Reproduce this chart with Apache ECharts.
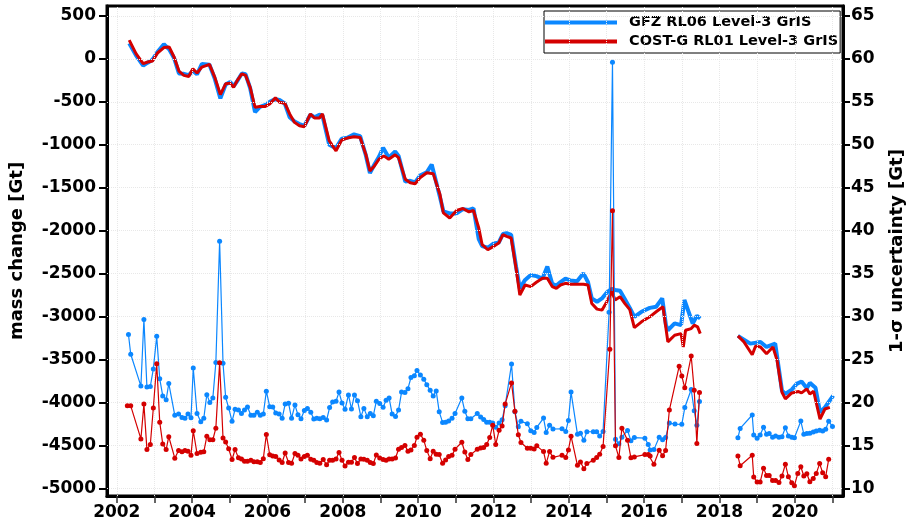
<!DOCTYPE html>
<html>
<head>
<meta charset="utf-8">
<script src="https://cdn.jsdelivr.net/npm/echarts@6/dist/echarts.min.js"></script>
<style>html,body{margin:0;padding:0;background:#fff}#c{width:914px;height:524px}</style>
</head>
<body>
<div id="c"></div>
<script>
// ---- tick labels ----
var xLabelYears = [2002,2004,2006,2008,2010,2012,2014,2016,2018,2020];
var xTickYears = [2002,2003,2004,2005,2006,2007,2008,2009,2010,2011,2012,2013,2014,2015,2016,2017,2018,2019,2020,2021];
var massTicks = [-5000,-4500,-4000,-3500,-3000,-2500,-2000,-1500,-1000,-500,0,500];
var sigmaTicks = [10,15,20,25,30,35,40,45,50,55,60,65];

// ---- GFZ RL06 mass change [Gt] ----
var gfzMassT = [2002.33,2002.51,2002.70,2002.82,2002.95,2003.08,2003.25,2003.39,2003.52,2003.65,2003.78,2003.91,2004.02,2004.13,2004.26,2004.46,2004.60,2004.75,2004.89,2005.01,2005.10,2005.21,2005.32,2005.42,2005.54,2005.67,2005.80,2005.93,2006.06,2006.21,2006.32,2006.46,2006.59,2006.72,2006.85,2006.98,2007.14,2007.25,2007.38,2007.46,2007.64,2007.82,2007.97,2008.12,2008.30,2008.46,2008.61,2008.72,2008.84,2008.96,2009.07,2009.22,2009.39,2009.48,2009.66,2009.79,2009.92,2010.05,2010.23,2010.36,2010.58,2010.67,2010.84,2011.02,2011.19,2011.35,2011.47,2011.61,2011.70,2011.85,2012.00,2012.14,2012.25,2012.35,2012.47,2012.60,2012.70,2012.84,2012.99,2013.14,2013.30,2013.43,2013.56,2013.67,2013.78,2013.91,2014.04,2014.22,2014.39,2014.51,2014.61,2014.75,2014.88,2015.01,2015.14,2015.23,2015.36,2015.49,2015.62,2015.74,2015.93,2016.15,2016.32,2016.48,2016.58,2016.63,2016.81,2016.98,2017.07,2017.29,2017.40,2017.49,2018.0,2018.49,2018.82,2019.09,2019.25,2019.48,2019.66,2019.75,2019.92,2020.05,2020.18,2020.32,2020.40,2020.55,2020.67,2020.80,2021.02];
var gfzMass = [180,40,-80,-45,-10,80,170,110,10,-170,-175,-190,-140,-180,-60,-70,-230,-460,-300,-270,-320,-250,-170,-180,-340,-620,-560,-540,-500,-470,-480,-520,-680,-730,-760,-780,-650,-680,-650,-660,-1000,-1040,-930,-920,-880,-900,-1120,-1330,-1230,-1140,-1035,-1150,-1080,-1130,-1430,-1420,-1440,-1360,-1320,-1230,-1610,-1775,-1800,-1800,-1750,-1760,-1740,-2100,-2180,-2200,-2150,-2140,-2040,-2030,-2050,-2420,-2672,-2574,-2516,-2530,-2560,-2418,-2620,-2640,-2600,-2560,-2580,-2590,-2497,-2600,-2789,-2828,-2790,-2720,-2680,-2691,-2700,-2800,-2900,-3004,-2945,-2900,-2887,-2789,-3101,-3160,-3080,-3101,-2808,-3082,-2992,-3023,'-',-3226,-3316,-3296,-3355,-3316,-3863,-3902,-3852,-3785,-3757,-3835,-3773,-3830,-4116,-4058,-3921];

// ---- COST-G RL01 mass change [Gt] ----
var costMassT = [2002.33,2002.51,2002.70,2002.82,2002.95,2003.08,2003.25,2003.39,2003.52,2003.65,2003.78,2003.91,2004.02,2004.13,2004.26,2004.46,2004.60,2004.75,2004.89,2005.01,2005.10,2005.21,2005.32,2005.42,2005.54,2005.67,2005.80,2005.93,2006.06,2006.21,2006.32,2006.46,2006.59,2006.72,2006.85,2006.98,2007.14,2007.25,2007.38,2007.46,2007.64,2007.82,2007.97,2008.12,2008.30,2008.46,2008.61,2008.72,2008.84,2008.96,2009.09,2009.22,2009.39,2009.48,2009.66,2009.79,2009.92,2010.05,2010.23,2010.40,2010.58,2010.67,2010.84,2011.02,2011.19,2011.35,2011.47,2011.61,2011.70,2011.85,2012.00,2012.14,2012.25,2012.35,2012.47,2012.60,2012.70,2012.84,2012.99,2013.14,2013.30,2013.43,2013.56,2013.67,2013.78,2013.91,2014.04,2014.22,2014.39,2014.51,2014.61,2014.75,2014.88,2015.01,2015.14,2015.23,2015.36,2015.49,2015.62,2015.74,2015.93,2016.15,2016.32,2016.50,2016.63,2016.81,2016.98,2017.04,2017.10,2017.25,2017.33,2017.42,2017.49,2018.0,2018.49,2018.65,2018.87,2018.96,2019.09,2019.25,2019.42,2019.53,2019.66,2019.75,2019.92,2020.10,2020.18,2020.32,2020.40,2020.50,2020.67,2020.80,2020.93];
var costMass = [217,61,-56,-37,-26,68,131,138,21,-143,-193,-205,-115,-166,-96,-64,-213,-416,-291,-283,-330,-244,-174,-193,-330,-564,-556,-556,-525,-455,-506,-517,-642,-740,-779,-790,-642,-689,-689,-642,-954,-1071,-946,-923,-908,-916,-1110,-1306,-1247,-1169,-1130,-1169,-1118,-1150,-1403,-1443,-1454,-1384,-1326,-1337,-1579,-1794,-1853,-1766,-1743,-1782,-1766,-1970,-2164,-2223,-2184,-2145,-2047,-2067,-2086,-2438,-2750,-2633,-2652,-2602,-2555,-2555,-2652,-2672,-2633,-2614,-2625,-2625,-2625,-2633,-2848,-2914,-2926,-2828,-2711,-2808,-2770,-2850,-2920,-3130,-3062,-3004,-2945,-2887,-3296,-3218,-3199,-3355,-3160,-3141,-3101,-3121,-3199,'-',-3226,-3296,-3445,-3343,-3355,-3433,-3355,-3511,-3882,-3960,-3890,-3874,-3890,-3843,-3902,-3870,-4195,-4077,-4058];

// ---- GFZ 1-sigma uncertainty [Gt] ----
var gfzSigT = [2002.31,2002.37,2002.64,2002.72,2002.80,2002.89,2002.97,2003.06,2003.14,2003.22,2003.31,2003.38,2003.54,2003.64,2003.73,2003.81,2003.89,2003.97,2004.03,2004.13,2004.23,2004.31,2004.39,2004.47,2004.55,2004.63,2004.73,2004.82,2004.89,2004.97,2005.06,2005.14,2005.23,2005.31,2005.39,2005.47,2005.56,2005.64,2005.73,2005.81,2005.89,2005.97,2006.06,2006.14,2006.22,2006.31,2006.39,2006.47,2006.56,2006.64,2006.73,2006.81,2006.89,2006.98,2007.06,2007.15,2007.23,2007.31,2007.39,2007.48,2007.57,2007.65,2007.73,2007.82,2007.90,2007.98,2008.06,2008.15,2008.23,2008.31,2008.39,2008.48,2008.56,2008.65,2008.73,2008.81,2008.89,2008.98,2009.07,2009.15,2009.23,2009.31,2009.40,2009.48,2009.56,2009.65,2009.73,2009.81,2009.90,2009.97,2010.06,2010.15,2010.23,2010.32,2010.40,2010.48,2010.56,2010.65,2010.73,2010.81,2010.90,2010.98,2011.16,2011.24,2011.32,2011.40,2011.57,2011.66,2011.74,2011.82,2011.90,2011.98,2012.06,2012.15,2012.23,2012.31,2012.48,2012.57,2012.66,2012.73,2012.90,2012.99,2013.08,2013.15,2013.33,2013.40,2013.49,2013.58,2013.82,2013.92,2013.99,2014.06,2014.23,2014.31,2014.40,2014.48,2014.65,2014.74,2014.82,2014.91,2015.07,2015.16,2015.24,2015.33,2015.41,2015.56,2015.65,2015.74,2016.02,2016.11,2016.16,2016.26,2016.40,2016.49,2016.57,2016.67,2016.82,2017.00,2017.08,2017.25,2017.33,2017.40,2017.47,2018.0,2018.49,2018.55,2018.87,2018.91,2019.00,2019.08,2019.17,2019.25,2019.32,2019.41,2019.49,2019.58,2019.66,2019.75,2019.83,2019.92,2019.99,2020.16,2020.24,2020.32,2020.40,2020.49,2020.57,2020.66,2020.74,2020.82,2020.90,2021.00];
var gfzSig = [27.9,25.6,21.9,29.65,21.8,21.85,23.9,27.7,22.75,20.75,20.3,22.2,18.5,18.65,18.25,18.15,18.65,18.2,24.0,18.7,17.75,18.15,20.9,20.0,20.5,24.65,38.75,24.55,20.6,19.35,17.8,19.2,19.1,18.7,19.1,19.45,18.5,18.5,18.85,18.5,18.65,21.3,19.5,19.45,18.75,18.65,18.15,19.8,19.9,18.15,19.7,18.55,18.1,19.05,19.3,18.85,18.06,18.14,18.1,18.25,17.94,19.4,20.05,20.13,21.2,19.93,19.2,20.87,19.23,20.87,20.2,18.34,19.3,18.34,18.7,18.45,20.13,19.86,19.43,20.25,20.52,18.64,18.37,19.1,21.2,21.15,21.6,22.9,23.1,23.7,23.2,22.7,22.05,21.4,20.75,21.33,18.9,17.67,17.7,17.82,18.14,18.7,20.5,18.96,18.1,18.1,18.7,18.3,18.0,17.7,17.7,17.6,17.1,17.6,17.98,19.6,24.46,18.92,17.17,17.79,17.52,16.7,16.5,17.08,18.17,16.5,17.35,16.9,16.93,16.62,17.9,21.2,16.3,16.42,15.6,16.58,16.58,16.58,16.1,16.62,30.5,59.6,15.7,15.17,15.95,16.73,15.52,15.9,15.83,15.1,14.47,14.5,15.95,15.64,15.9,17.59,17.47,17.44,19.4,21.5,19.04,17.35,20.1,'-',15.88,16.97,18.53,16.2,15.83,16.2,17.1,16.3,16.38,15.95,16.1,15.95,16.0,17.05,16.1,15.95,15.88,17.82,16.3,16.38,16.4,16.56,16.68,16.75,16.68,16.87,17.8,17.2];

// ---- COST-G 1-sigma uncertainty [Gt] ----
var costSigT = [2002.28,2002.37,2002.64,2002.72,2002.80,2002.89,2002.97,2003.06,2003.14,2003.22,2003.31,2003.38,2003.54,2003.64,2003.73,2003.81,2003.89,2003.97,2004.03,2004.13,2004.23,2004.31,2004.39,2004.47,2004.55,2004.63,2004.73,2004.82,2004.89,2004.97,2005.06,2005.14,2005.23,2005.31,2005.39,2005.47,2005.56,2005.64,2005.73,2005.81,2005.89,2005.97,2006.06,2006.14,2006.22,2006.31,2006.39,2006.47,2006.56,2006.64,2006.73,2006.81,2006.89,2006.98,2007.06,2007.15,2007.23,2007.31,2007.39,2007.48,2007.57,2007.65,2007.73,2007.82,2007.90,2007.98,2008.06,2008.15,2008.23,2008.31,2008.39,2008.48,2008.56,2008.65,2008.73,2008.81,2008.89,2008.98,2009.07,2009.15,2009.23,2009.31,2009.40,2009.48,2009.56,2009.65,2009.73,2009.81,2009.90,2009.97,2010.06,2010.15,2010.23,2010.32,2010.40,2010.48,2010.56,2010.65,2010.73,2010.81,2010.90,2010.98,2011.16,2011.24,2011.32,2011.40,2011.57,2011.66,2011.74,2011.82,2011.90,2011.98,2012.06,2012.15,2012.23,2012.31,2012.48,2012.57,2012.66,2012.73,2012.90,2012.99,2013.08,2013.15,2013.33,2013.40,2013.49,2013.58,2013.82,2013.92,2013.99,2014.06,2014.23,2014.31,2014.40,2014.48,2014.65,2014.74,2014.82,2014.91,2015.09,2015.16,2015.24,2015.33,2015.41,2015.56,2015.65,2015.74,2016.02,2016.11,2016.16,2016.26,2016.40,2016.49,2016.57,2016.67,2016.93,2017.00,2017.08,2017.25,2017.33,2017.40,2017.47,2018.0,2018.49,2018.55,2018.87,2018.91,2019.00,2019.08,2019.17,2019.25,2019.32,2019.41,2019.49,2019.58,2019.66,2019.75,2019.83,2019.92,2019.99,2020.08,2020.16,2020.24,2020.32,2020.40,2020.49,2020.57,2020.66,2020.74,2020.82,2020.90];
var costSig = [19.6,19.6,15.75,19.8,14.5,15.1,19.35,24.5,17.7,15.15,14.5,16.0,13.5,14.4,14.25,14.4,14.3,13.85,16.7,14.05,14.2,14.25,16.05,15.65,15.65,17.0,24.6,15.85,15.4,14.6,13.35,14.5,13.55,13.4,13.15,13.15,13.25,13.1,13.1,13.0,13.45,16.25,13.9,13.75,13.7,13.3,13.0,14.1,13.0,12.9,14.05,13.85,13.4,13.7,13.84,13.37,13.26,12.99,12.9,13.34,12.75,13.26,13.26,13.42,14.16,13.26,12.6,13.03,13.03,13.57,12.87,13.42,13.37,13.26,12.99,12.87,13.88,13.53,13.34,13.26,13.42,13.42,13.53,14.55,14.74,14.98,14.3,14.47,14.98,15.95,16.3,15.6,14.4,13.45,14.3,13.96,13.92,12.9,13.3,13.69,13.84,14.55,15.36,14.22,13.34,13.92,14.55,14.7,14.74,15.1,15.9,17.35,15.1,16.75,17.25,19.8,22.27,18.96,16.23,15.33,14.66,14.66,14.58,14.94,14.27,12.9,14.27,13.6,13.84,13.57,14.47,16.06,12.67,13.06,12.28,12.87,13.26,13.57,13.96,14.86,26.2,42.3,14.94,13.57,17.0,15.6,13.54,13.65,13.92,13.92,13.77,12.79,14.43,13.8,14.4,19.1,24.2,23.06,21.7,25.4,21.4,15.2,21.15,'-',13.77,12.63,13.84,11.3,10.72,10.72,12.32,11.5,11.5,10.9,10.9,10.68,11.43,12.8,11.35,10.65,10.3,11.73,12.5,11.43,11.7,10.76,11.15,11.73,12.87,11.8,11.35,13.37];

function zip(t, v) { return t.map(function (x, i) { return [x, v[i]]; }); }

var BLUE = '#0b87ff', RED = '#d40000';
var FONT = 'DejaVu Sans';

var chart = echarts.init(document.getElementById('c'), null, {renderer: 'canvas'});
chart.setOption({
  animation: false,
  backgroundColor: '#fff',
  grid: {left: 105, top: 6, width: 742, height: 490, show: true, borderColor: '#000', borderWidth: 3, backgroundColor: 'transparent'},
  legend: {
    orient: 'vertical', left: 544, top: 11,
    data: ['GFZ RL06 Level-3 GrIS', 'COST-G RL01 Level-3 GrIS'],
    icon: 'rect', itemWidth: 72, itemHeight: 4, itemGap: 4,
    borderColor: '#000', borderWidth: 1, backgroundColor: '#fff',
    padding: [4, 2, 4, 1],
    textStyle: {fontFamily: FONT, fontWeight: 'bold', fontSize: 14.5, color: '#000', padding: [0, 0, 0, 7]}
  },
  xAxis: {
    type: 'value', min: 2001.74, max: 2021.28,
    axisLine: {show: true, onZero: false, lineStyle: {color: '#000', width: 3}},
    axisTick: {show: true, length: 7, customValues: xTickYears, lineStyle: {color: '#333', width: 1.5}},
    axisLabel: {customValues: xLabelYears, margin: 8, fontFamily: FONT, fontWeight: 'bold', fontSize: 17, color: '#000', formatter: function (v) { return String(v); }},
    splitLine: {show: false}
  },
  yAxis: [{
    type: 'value', min: -5090, max: 615, position: 'left',
    name: 'mass change [Gt]', nameLocation: 'middle', nameRotate: 90, nameGap: 81,
    nameTextStyle: {fontFamily: FONT, fontWeight: 'bold', fontSize: 18, color: '#000'},
    axisLine: {show: true, onZero: false, lineStyle: {color: '#000', width: 3}},
    axisTick: {show: true, length: 8, customValues: massTicks, lineStyle: {color: '#000', width: 2}},
    axisLabel: {customValues: massTicks, margin: 11, fontFamily: FONT, fontWeight: 'bold', fontSize: 17, color: '#000', formatter: function (v) { return String(v); }},
    splitLine: {show: false}
  }, {
    type: 'value', min: 9.1, max: 66.15, position: 'right',
    name: '1-σ uncertainty [Gt]', nameLocation: 'middle', nameRotate: 90, nameGap: 45,
    nameTextStyle: {fontFamily: FONT, fontWeight: 'bold', fontSize: 18, color: '#000'},
    axisLine: {show: true, onZero: false, lineStyle: {color: '#000', width: 3}},
    axisTick: {show: true, length: 7, customValues: sigmaTicks, lineStyle: {color: '#000', width: 2}},
    axisLabel: {customValues: sigmaTicks, margin: 8, fontFamily: FONT, fontWeight: 'bold', fontSize: 17, color: '#000', formatter: function (v) { return String(v); }},
    splitLine: {show: false}
  }],
  series: [{
    name: 'grid', type: 'line', data: [], z: 1, silent: true,
    markLine: {
      silent: true, symbol: 'none', label: {show: false}, animation: false,
      lineStyle: {color: '#e8e8e8', type: 'dotted', width: 1},
      data: xTickYears.map(function (y) { return {xAxis: y}; }).concat(massTicks.map(function (v) { return {yAxis: v}; }))
    }
  }, {
    name: 'GFZ RL06 Level-3 GrIS', type: 'line', yAxisIndex: 0, z: 3,
    data: zip(gfzMassT, gfzMass), showSymbol: false, symbol: 'none',
    lineStyle: {color: BLUE, width: 4}, itemStyle: {color: BLUE}
  }, {
    name: 'COST-G RL01 Level-3 GrIS', type: 'line', yAxisIndex: 0, z: 4,
    data: zip(costMassT, costMass), showSymbol: false, symbol: 'none',
    lineStyle: {color: RED, width: 3}, itemStyle: {color: RED}
  }, {
    name: 'GFZ sigma', type: 'line', yAxisIndex: 1, z: 5,
    data: zip(gfzSigT, gfzSig), symbol: 'circle', symbolSize: 5, showAllSymbol: true,
    lineStyle: {color: BLUE, width: 1.2}, itemStyle: {color: BLUE}
  }, {
    name: 'COST-G sigma', type: 'line', yAxisIndex: 1, z: 6,
    data: zip(costSigT, costSig), symbol: 'circle', symbolSize: 5, showAllSymbol: true,
    lineStyle: {color: RED, width: 1.2}, itemStyle: {color: RED}
  }]
});
</script>
</body>
</html>
